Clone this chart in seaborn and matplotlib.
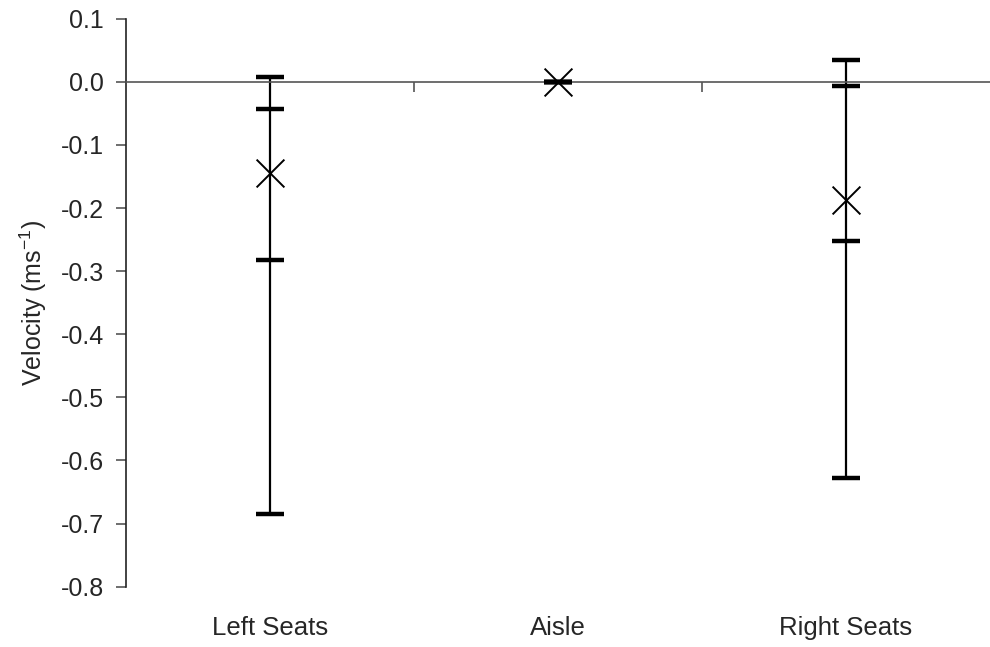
import matplotlib
matplotlib.use("Agg")
import matplotlib.pyplot as plt
import matplotlib.transforms as mtransforms
import seaborn as sns
import numpy as np
import pandas as pd

categories = ["Left Seats", "Aisle", "Right Seats"]
mins = [-0.685, 0.0, -0.627]
q1 = [-0.283, 0.0, -0.253]
means = [-0.144, 0.0, -0.188]
q3 = [-0.043, 0.0, -0.007]
maxs = [0.007, 0.0, 0.034]
yticks = [-0.8, -0.7, -0.6, -0.5, -0.4, -0.3, -0.2, -0.1, 0.0, 0.1]

sns.set_style("white")
plt.rcParams["font.family"] = ["Liberation Sans", "DejaVu Sans"]
plt.rcParams["mathtext.default"] = "regular"

pos = np.arange(len(categories))
df = pd.DataFrame({"pos": pos, "category": categories, "min": mins, "q1": q1,
                   "mean": means, "q3": q3, "max": maxs})
caps = df.melt(id_vars=["pos"], value_vars=["min", "q1", "q3", "max"], value_name="v")

fig = plt.figure(figsize=(9.9, 6.47), dpi=100)
ax = fig.add_axes([0.1273, 0.0932, 0.8727, 0.8779])

ax.vlines(df["pos"], df["min"], df["max"], color="black", linewidth=1.6, zorder=2)
sns.scatterplot(data=caps, x="pos", y="v", marker="_", s=420, linewidth=3.2,
                color="black", ax=ax, zorder=3, legend=False)
sns.scatterplot(data=df, x="pos", y="mean", marker="x", s=400, linewidth=1.4,
                color="black", ax=ax, zorder=4, legend=False)

ax.set_xlim(-0.5, 2.5)
ax.set_ylim(-0.8, 0.1)
ax.set_yticks(yticks)
ax.set_yticklabels([f"{abs(t):.1f}" if abs(t) < 1e-9 else f"{t:.1f}" for t in yticks])

for s in ["top", "right"]:
    ax.spines[s].set_visible(False)
ax.spines["left"].set_color("#222222")
ax.spines["left"].set_linewidth(1.2)
ax.spines["bottom"].set_position(("data", 0))
ax.spines["bottom"].set_color("#555555")
ax.spines["bottom"].set_linewidth(1.2)

ax.set_xticks([0.5, 1.5])
ax.set_xticklabels([])
ax.tick_params(axis="x", bottom=True, direction="out", length=7, width=1.2, color="#555555")
ax.tick_params(axis="y", left=True, direction="out", length=7, width=1.2, color="#555555",
               labelsize=18, pad=9)
ax.set_xlabel("")
ax.set_ylabel("Velocity (ms$^{-1}$)", fontsize=18, labelpad=8)

trans = mtransforms.blended_transform_factory(ax.transData, ax.transAxes)
for p, name in zip(pos, categories):
    ax.text(p, -0.073, name, transform=trans, ha="center", va="center", fontsize=18.5)

fig.savefig("out.png", dpi=100)
